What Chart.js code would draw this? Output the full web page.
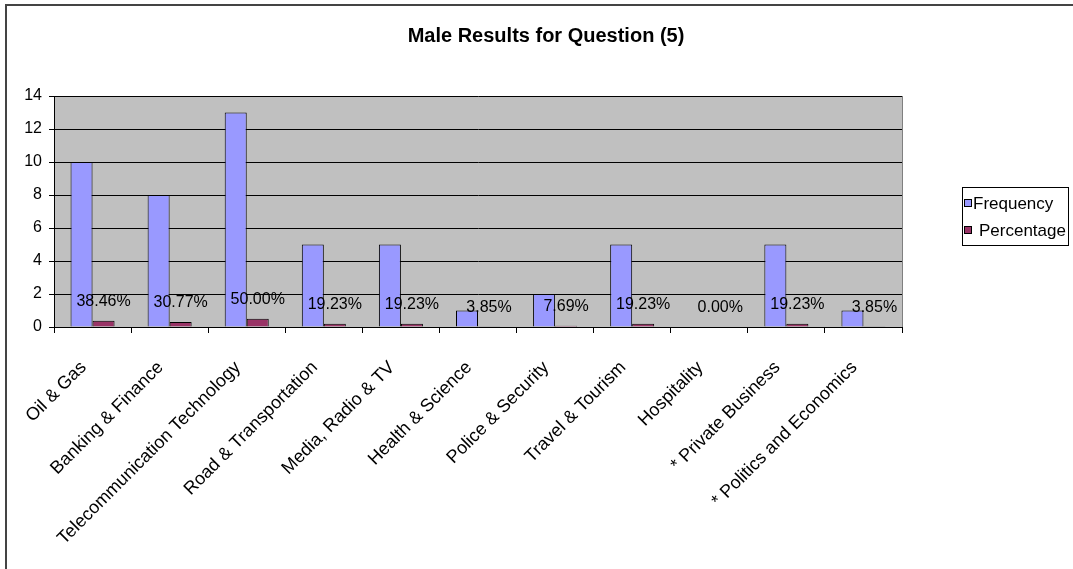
<!DOCTYPE html>
<html><head><meta charset="utf-8">
<script src="https://cdn.jsdelivr.net/npm/chart.js@4"></script>
<style>
html,body{margin:0;padding:0;background:#fff;}
#wrap{position:relative;width:1073px;height:569px;}
canvas{display:block;}
</style></head><body>
<div id="wrap"><canvas id="c" width="1073" height="569"></canvas></div>
<script>
const chartTitle = "Male Results for Question (5)";
const categories = ["Oil & Gas","Banking & Finance","Telecommunication Technology","Road & Transportation","Media, Radio & TV","Health & Science","Police & Security","Travel & Tourism","Hospitality","* Private Business","* Politics and Economics"];
const frequency = [10, 8, 13, 5, 5, 1, 2, 5, 0, 5, 1];
const percentage = [0.3846, 0.3077, 0.5000, 0.1923, 0.1923, 0.0385, 0.0769, 0.1923, 0.0000, 0.1923, 0.0385];
const percentageLabels = ["38.46%","30.77%","50.00%","19.23%","19.23%","3.85%","7.69%","19.23%","0.00%","19.23%","3.85%"];
const seriesNames = ["Frequency","Percentage"];
const yMin = 0, yMax = 14, yStep = 2;

const FONT = '"Liberation Sans", Arial, sans-serif';

const decor = {
  id: 'decor',
  beforeDraw(chart) {
    const ctx = chart.ctx, a = chart.chartArea;
    ctx.save();
    ctx.fillStyle = '#fff';
    ctx.fillRect(0, 0, chart.width, chart.height);
    ctx.fillStyle = '#C0C0C0';
    ctx.fillRect(a.left, a.top, a.right - a.left, a.bottom - a.top);
    ctx.strokeStyle = '#444';
    ctx.lineWidth = 2;
    ctx.beginPath();
    ctx.moveTo(6, chart.height + 2);
    ctx.lineTo(6, 5);
    ctx.lineTo(chart.width + 2, 5);
    ctx.stroke();
    ctx.restore();
  },
  afterDatasetsDraw(chart) {
    const ctx = chart.ctx, a = chart.chartArea;
    ctx.save();
    ctx.strokeStyle = '#808080';
    ctx.lineWidth = 1;
    ctx.beginPath();
    ctx.moveTo(Math.round(a.right) + 0.5, a.top);
    ctx.lineTo(Math.round(a.right) + 0.5, a.bottom);
    ctx.stroke();
    const meta = chart.getDatasetMeta(1);
    ctx.fillStyle = '#000';
    ctx.font = '16px ' + FONT;
    ctx.textAlign = 'center';
    ctx.textBaseline = 'middle';
    meta.data.forEach((bar, i) => {
      ctx.fillText(percentageLabels[i], bar.x, bar.y - 19);
    });
    ctx.font = 'bold 20px ' + FONT;
    ctx.fillText(chartTitle, 546, 36);
    const lx = 962, ly = 187, lw = 106, lh = 58;
    ctx.strokeStyle = '#000';
    ctx.lineWidth = 1;
    ctx.strokeRect(lx + 0.5, ly + 0.5, lw, lh);
    const colors = chart.data.datasets.map(d => d.backgroundColor);
    const rows = [203, 230];
    const textX = [970, 976];
    ctx.font = '17px ' + FONT;
    ctx.textAlign = 'left';
    seriesNames.forEach((name, i) => {
      ctx.fillStyle = colors[i];
      ctx.fillRect(964, rows[i] - 4, 8, 8);
      ctx.strokeRect(964.5, rows[i] - 3.5, 7, 7);
      ctx.fillStyle = '#000';
      ctx.fillText(name, textX[i] + 3, rows[i] + 1);
    });
    ctx.restore();
  }
};

new Chart(document.getElementById('c'), {
  type: 'bar',
  data: {
    labels: categories,
    datasets: [
      { label: seriesNames[0], data: frequency, backgroundColor: '#9999FF', borderColor: '#000', borderWidth: 1, categoryPercentage: 0.571, barPercentage: 1.0 },
      { label: seriesNames[1], data: percentage, backgroundColor: '#993366', borderColor: '#000', borderWidth: 1, categoryPercentage: 0.571, barPercentage: 1.0 }
    ]
  },
  options: {
    responsive: false,
    animation: false,
    devicePixelRatio: 1,
    layout: { padding: { top: 96, left: 0, right: 171, bottom: 0 } },
    plugins: { legend: { display: false }, title: { display: false }, tooltip: { enabled: false } },
    scales: {
      x: {
        grid: { display: true, drawOnChartArea: false, drawTicks: true, tickLength: 6, color: '#000', offset: true },
        border: { display: true, color: '#000', width: 1 },
        ticks: { autoSkip: false, minRotation: 45, maxRotation: 45, color: '#000', font: { family: FONT, size: 18 }, padding: 24, labelOffset: -9 },
        afterFit(s) { s.height = 242; }
      },
      y: {
        min: yMin, max: yMax,
        grid: { color: '#000', lineWidth: 1, tickLength: 5, drawTicks: true },
        border: { display: true, color: '#000', width: 1 },
        ticks: { stepSize: yStep, color: '#000', font: { family: FONT, size: 16 }, padding: 7 },
        afterFit(s) { s.width = 54; }
      }
    }
  },
  plugins: [decor]
});
</script>
</body></html>
